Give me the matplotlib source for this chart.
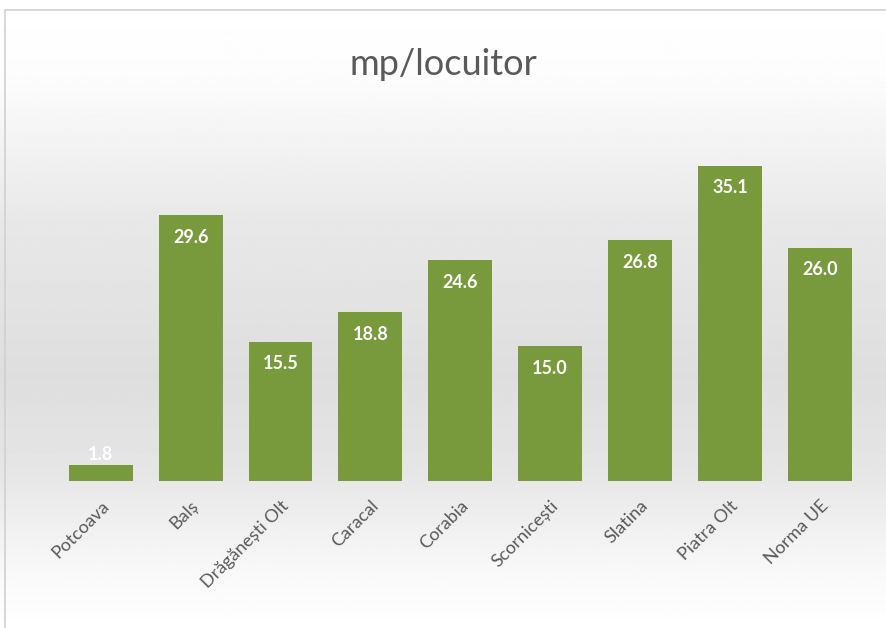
import matplotlib
matplotlib.use('Agg')
import matplotlib.pyplot as plt
import numpy as np

plt.rcParams['font.family'] = ['Lato', 'DejaVu Sans']

orase = ['Potcoava', 'Balș', 'Drăgănești Olt', 'Caracal', 'Corabia',
         'Scornicești', 'Slatina', 'Piatra Olt', 'Norma UE']
valori = [1.8, 29.6, 15.5, 18.8, 24.6, 15.0, 26.8, 35.1, 26.0]

fig = plt.figure(figsize=(8.86, 6.28), dpi=100)

# fundal cu gradient (alb sus, gri la mijloc, alb jos)
bg = fig.add_axes([0, 0, 1, 1], zorder=0)
yy = np.linspace(0, 1, 400)
g = np.interp(yy, [0, 0.12, 0.35, 0.6, 0.75, 0.9, 1.0],
              [1.0, 0.99, 0.91, 0.87, 0.9, 0.97, 1.0])
bg.imshow(np.tile(g[:, None], (1, 2)), cmap='gray', vmin=0, vmax=1,
          aspect='auto', extent=[0, 1, 0, 1], origin='upper')
bg.set_xlim(0, 1)
bg.set_ylim(0, 1)
bg.add_patch(plt.Rectangle((5 / 886, -0.01), 1.0, 1 - 10 / 628 + 0.01,
                           fill=False, edgecolor='#d0d0d0', lw=1.2))
bg.axis('off')

ax = fig.add_axes([0.063, 0.234, 0.913, 0.572], zorder=1)
ax.patch.set_alpha(0)
x = np.arange(len(orase))
bare = ax.bar(x, valori, width=0.71, color='#789a3c', zorder=2)

for xi, v in zip(x, valori):
    if v < 5:
        ax.text(xi, v + 0.2, f'{v:.1f}', ha='center', va='bottom',
                color='white', fontsize=13, fontweight='bold')
    else:
        ax.text(xi, v - 1.5, f'{v:.1f}', ha='center', va='top',
                color='white', fontsize=13, fontweight='bold')

ax.set_xlim(-0.5, len(orase) - 0.5)
ax.set_ylim(0, 40)
ax.set_yticks([])
ax.set_xticks(x)
ax.set_xticklabels(orase, rotation=45, ha='right', rotation_mode='anchor',
                   fontsize=13, color='#595959')
ax.tick_params(axis='x', length=0, pad=12)
for s in ax.spines.values():
    s.set_visible(False)

fig.text(0.5, 0.897, 'mp/locuitor', ha='center', va='center',
         fontsize=26, color='#595959')

fig.savefig('out.png', dpi=100)
